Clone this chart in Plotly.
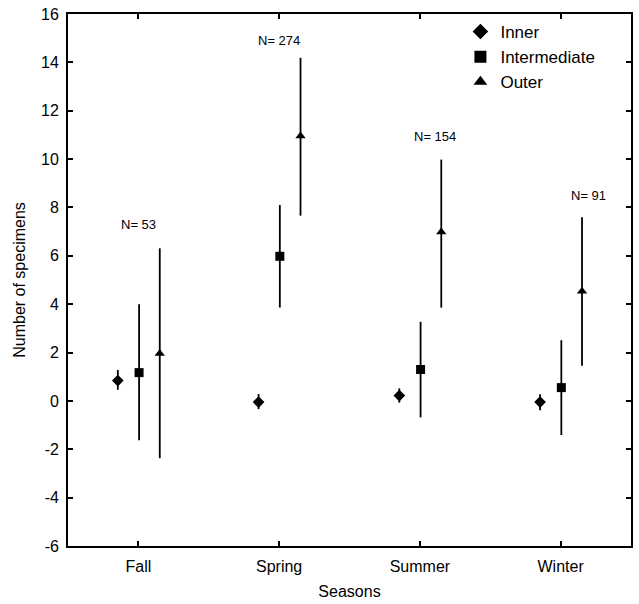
import plotly.graph_objects as go

seasons = ["Fall", "Spring", "Summer", "Winter"]
y_ticks = [-6, -4, -2, 0, 2, 4, 6, 8, 10, 12, 14, 16]
y_tick_text = ["-6", "-4", "-2", "0", "2", "4", "6", "8", "10", "12", "14", "16"]
n_labels = ["N= 53", "N= 274", "N= 154", "N= 91"]
n_label_y = [7.3, 14.9, 10.95, 8.5]
n_label_dx = [0.0, 0.0, 0.11, 0.2]

inner_mean = [0.84, -0.05, 0.22, -0.05]
inner_upper = [1.28, 0.28, 0.52, 0.28]
inner_lower = [0.46, -0.34, -0.07, -0.39]

inter_mean = [1.17, 5.98, 1.3, 0.55]
inter_upper = [4.0, 8.1, 3.27, 2.51]
inter_lower = [-1.63, 3.86, -0.68, -1.41]

outer_mean = [1.96, 10.95, 6.98, 4.53]
outer_upper = [6.31, 14.19, 9.98, 7.59]
outer_lower = [-2.37, 7.66, 3.86, 1.45]

series = [
    ("Inner", inner_mean, inner_upper, inner_lower, "diamond", -0.146, 9),
    ("Intermediate", inter_mean, inter_upper, inter_lower, "square", 0.005, 9),
    ("Outer", outer_mean, outer_upper, outer_lower, "triangle-up", 0.152, 9),
]

FONT = "Liberation Sans, Arial, sans-serif"
fig = go.Figure()
for name, mean, up, lo, sym, off, sz in series:
    xs = [i + off for i in range(len(seasons))]
    fig.add_trace(go.Scatter(
        x=xs, y=mean, mode="markers", name=name,
        marker=dict(symbol=sym, size=sz, color="black"),
        error_y=dict(type="data", symmetric=False,
                     array=[u - m for u, m in zip(up, mean)],
                     arrayminus=[m - l for m, l in zip(mean, lo)],
                     width=0, thickness=1.8, color="black"),
    ))

for i, (txt, yv, dx) in enumerate(zip(n_labels, n_label_y, n_label_dx)):
    fig.add_annotation(x=i + dx, y=yv, text=txt, showarrow=False,
                       font=dict(size=13, color="black", family=FONT))

fig.update_layout(
    width=639, height=604,
    margin=dict(l=68, r=6, t=14, b=58),
    plot_bgcolor="white", paper_bgcolor="white",
    font=dict(family=FONT, size=16, color="black"),
    showlegend=True,
    legend=dict(x=0.697, y=1.0, xanchor="left", yanchor="top",
                bgcolor="rgba(0,0,0,0)", font=dict(size=17),
                itemsizing="constant", tracegroupgap=0),
    xaxis=dict(range=[-0.5, 3.5], tickmode="array", tickvals=list(range(len(seasons))),
               ticktext=seasons, ticks="inside", ticklen=5, tickwidth=1.5, tickcolor="black",
               showline=True, linecolor="black", linewidth=1.8, mirror="ticks",
               showgrid=False, zeroline=False, ticklabelstandoff=5,
               title=dict(text="Seasons", font=dict(size=16), standoff=12)),
    yaxis=dict(range=[-6, 16], tickmode="array", tickvals=y_ticks, ticktext=y_tick_text,
               ticks="inside", ticklen=5, tickwidth=1.5, tickcolor="black",
               showline=True, linecolor="black", linewidth=1.8, mirror="ticks",
               showgrid=False, zeroline=False, ticklabelstandoff=4,
               title=dict(text="Number of specimens", font=dict(size=16), standoff=12)),
)

fig.write_html("out.html")
